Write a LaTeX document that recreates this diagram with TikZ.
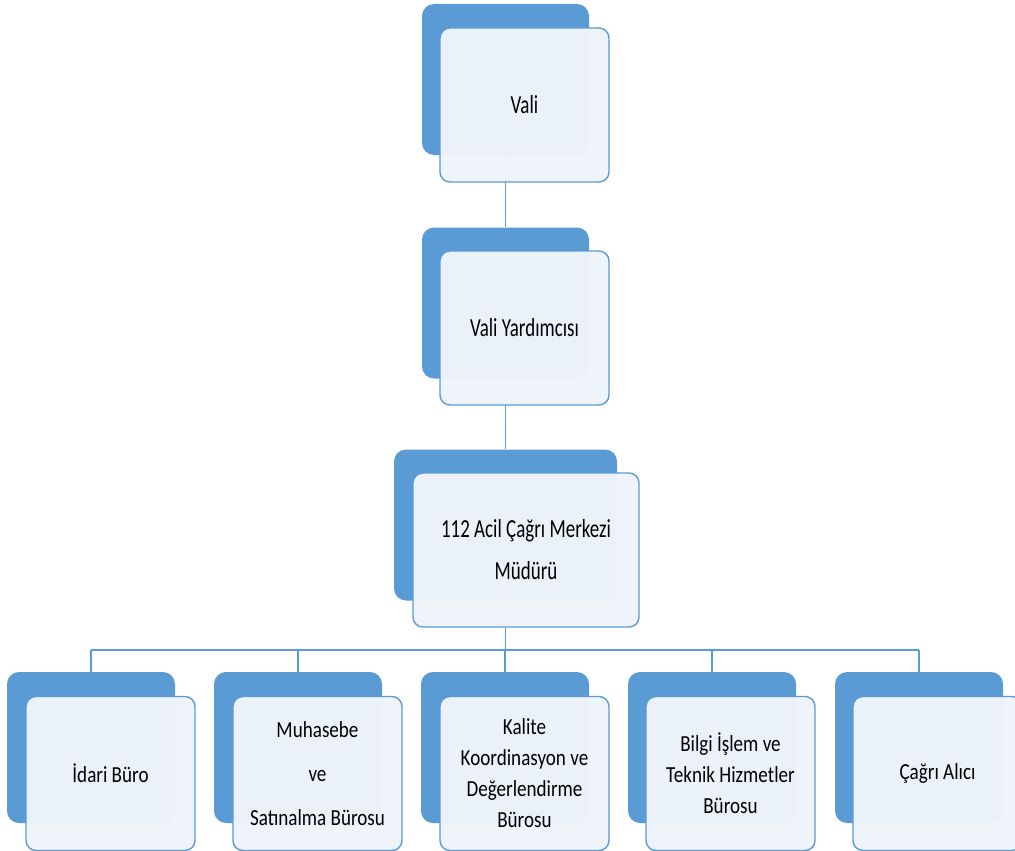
\documentclass[tikz,border=0pt]{standalone}
\usepackage{fontspec}
\setmainfont{Carlito}
\definecolor{accent}{HTML}{5B9BD5}
\definecolor{card}{HTML}{EFF4FB}
\tikzset{
  backbox/.style={shape=rectangle, fill=accent, draw=none, rounded corners=12pt,
    inner sep=0pt, minimum width=#1, minimum height=151pt},
  backbox/.default=167pt,
  frontbox/.style={shape=rectangle, fill=card, fill opacity=0.97, text opacity=1,
    draw=accent, line width=1.4pt, rounded corners=10pt, inner sep=0pt,
    minimum width=#1, minimum height=154pt, align=center},
  frontbox/.default=169pt,
  link/.style={draw=accent, line width=1.3pt},
  bigtext/.style={font=\fontsize{26}{42}\selectfont\addfontfeature{FakeStretch=0.73}},
  smalltext/.style={font=\fontsize{23}{31}\selectfont\addfontfeature{FakeStretch=0.83}},
  widetext/.style={font=\fontsize{23}{44}\selectfont\addfontfeature{FakeStretch=0.83}}
}
\begin{document}
\begin{tikzpicture}[x=1pt,y=-1pt]
  \useasboundingbox (0,0) rectangle (1015,851);
  \clip (0,0) rectangle (1015,851);
  \fill[white] (0,0) rectangle (1015,851);

  % back panels
  \node[backbox] (valiB) at (505.5,79.5) {};
  \node[backbox] (yardB) at (505.5,303) {};
  \node[backbox=223pt] (mudB) at (505.5,525) {};
  \node[backbox=168pt] (c1B) at (91,747.5) {};
  \node[backbox=168pt] (c2B) at (298,747.5) {};
  \node[backbox=168pt] (c3B) at (505,747.5) {};
  \node[backbox=168pt] (c4B) at (712,747.5) {};
  \node[backbox=168pt] (c5B) at (919,747.5) {};

  % connectors
  \coordinate (bus) at (505.5,650);
  \draw[link] (valiB.south) -- (yardB.north);
  \draw[link] (yardB.south) -- (mudB.north);
  \draw[link] (mudB.south) -- (bus);
  \draw[link] (c1B.north |- bus) -- (c5B.north |- bus);
  \foreach \c in {c1B,c2B,c3B,c4B,c5B}
    \draw[link] (\c.north) -- (\c.north |- bus);

  % front cards with labels
  \node[frontbox, bigtext] (vali) at (524.5,105) {Vali};
  \node[frontbox, bigtext] (yard) at (524.5,328) {Vali Yardımcısı};
  \node[frontbox=226pt, bigtext] (mud) at (526,550) {112 Acil Çağrı Merkezi\\Müdürü};
  \node[frontbox, smalltext] (c1) at (110.5,773.5) {İdari Büro};
  \node[frontbox, widetext] (c2) at (317.5,773.5) {Muhasebe\\ve\\Satınalma Bürosu};
  \node[frontbox, smalltext] (c3) at (524.5,773.5) {Kalite\\Koordinasyon ve\\Değerlendirme\\Bürosu};
  \node[frontbox, smalltext] (c4) at (730.5,773.5) {Bilgi İşlem ve\\Teknik Hizmetler\\Bürosu};
  \node[frontbox, smalltext] (c5) at (937.5,773.5) {Çağrı Alıcı};
\end{tikzpicture}
\end{document}
